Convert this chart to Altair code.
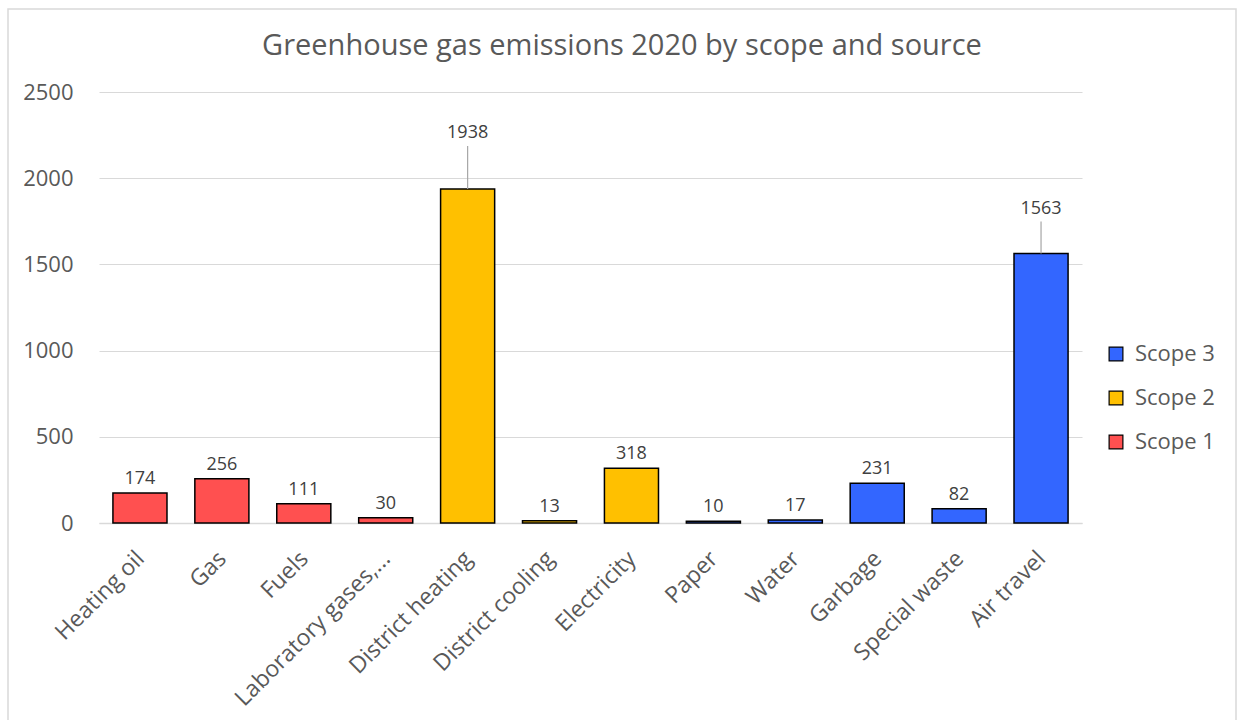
import altair as alt
import pandas as pd

categories = ["Heating oil", "Gas", "Fuels", "Laboratory gases,...", "District heating",
              "District cooling", "Electricity", "Paper", "Water", "Garbage",
              "Special waste", "Air travel"]
values = [174, 256, 111, 30, 1938, 13, 318, 10, 17, 231, 82, 1563]
scopes = ["Scope 1", "Scope 1", "Scope 1", "Scope 1", "Scope 2", "Scope 2", "Scope 2",
          "Scope 3", "Scope 3", "Scope 3", "Scope 3", "Scope 3"]
legend_order = ["Scope 3", "Scope 2", "Scope 1"]
colors = ["#3366FF", "#FFC000", "#FF5050"]
title_text = ["Greenhouse gas emissions 2020 by scope and source"]

df = pd.DataFrame({"source": categories, "value": values, "scope": scopes})

FONT = "Open Sans"
GREY = "#595959"

x = alt.X("source:N", sort=categories, title=None,
          scale=alt.Scale(paddingInner=0.34, paddingOuter=0.17),
          axis=alt.Axis(labelAngle=-45, labelAlign="right", labelBaseline="top",
                        labelFontSize=23, labelColor=GREY, labelFont=FONT,
                        ticks=False, domainColor="#D9D9D9", domainWidth=1.5,
                        labelPadding=24, labelOffset=-7, labelLimit=300))
y = alt.Y("value:Q", title=None,
          scale=alt.Scale(domain=[0, 2500], nice=False),
          axis=alt.Axis(values=[0, 500, 1000, 1500, 2000, 2500], format="d",
                        labelFontSize=22, labelColor=GREY, labelFont=FONT, ticks=False,
                        domain=False, gridColor="#D9D9D9", gridWidth=1.2, labelPadding=26))

base = alt.Chart(df)

border = alt.Chart(pd.DataFrame({"a": [0]})).mark_rect(
    fill=None, stroke="#D9D9D9", strokeWidth=1.5
).encode(x=alt.value(-91), x2=alt.value(1137), y=alt.value(-83), y2=alt.value(720))

title = alt.Chart(pd.DataFrame({"t": title_text})).mark_text(
    fontSize=29, font=FONT, color=GREY, baseline="middle", align="center"
).encode(x=alt.value(523), y=alt.value(-46), text="t:N")

bars = base.mark_bar(stroke="black", strokeWidth=1.5).encode(
    x=x, y=y,
    color=alt.Color("scope:N", scale=alt.Scale(domain=legend_order, range=colors),
                    legend=alt.Legend(title=None, orient="none", legendX=1006, legendY=251,
                                      labelFontSize=22, labelColor=GREY, labelFont=FONT,
                                      symbolType="square", symbolSize=190,
                                      symbolStrokeColor="black", symbolStrokeWidth=1.2,
                                      rowPadding=22, labelOffset=8))
)

small_labels = base.transform_filter("datum.value < 1000").mark_text(
    baseline="bottom", dy=-5, fontSize=18, color="#404040", font=FONT
).encode(x=alt.X("source:N", sort=categories), y="value:Q", text="value:Q")

tall = base.transform_filter("datum.value >= 1000").transform_calculate(
    ly="datum.value * 1.167", lt="datum.value * 1.167 - 75"
)
tall_labels = tall.mark_text(baseline="middle", fontSize=18, color="#404040", font=FONT).encode(
    x=alt.X("source:N", sort=categories), y="ly:Q", text="value:Q")
leaders = tall.mark_rule(color="#A6A6A6", strokeWidth=1.2).encode(
    x=alt.X("source:N", sort=categories), y="value:Q", y2="lt:Q")

chart = alt.layer(border, title, bars, leaders, small_labels, tall_labels).properties(
    width=983, height=431,
    autosize=alt.AutoSizeParams(type="none"),
    padding={"left": 99, "top": 92, "right": 157, "bottom": 197},
).configure(background="white", view=alt.ViewConfig(stroke="transparent", strokeWidth=0))

chart.save("out.html", embed_options={"renderer": "svg", "actions": False})
